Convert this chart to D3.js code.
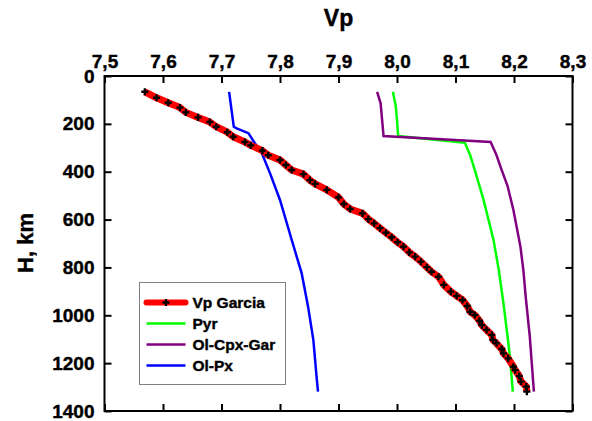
<!DOCTYPE html>
<html>
<head>
<meta charset="utf-8">
<script src="https://cdn.jsdelivr.net/npm/d3@7"></script>
<style>
	body { margin: 0; background: #fff; }
	text { font-family: "Liberation Sans", Arial, sans-serif; font-weight: bold; stroke: #000; stroke-width: 0.4px; }
</style>
</head>
<body>
<div id="vis"></div>
<script>
// depth H (km) and Vp (km/s)

var garciaH = [66, 91, 112, 132, 152, 173, 192, 212, 235, 254, 276, 290, 312, 331, 351, 372, 393, 410, 435, 451,
	476, 507, 535, 556, 574, 598, 616, 636, 655, 674, 695, 713, 737, 755, 776, 799, 818, 839, 873, 901,
	919, 936, 961, 985, 999, 1023, 1041, 1061, 1082, 1103, 1117, 1141, 1159, 1180, 1215, 1229, 1254, 1277, 1298, 1319];
var garciaVp = [7.569, 7.589, 7.609, 7.629, 7.639, 7.660, 7.680, 7.691, 7.710, 7.720, 7.740, 7.750, 7.770, 7.780, 7.800, 7.810, 7.820, 7.840, 7.851, 7.860,
	7.880, 7.900, 7.909, 7.920, 7.941, 7.951, 7.961, 7.971, 7.981, 7.991, 8.001, 8.011, 8.021, 8.031, 8.041, 8.051, 8.059, 8.071, 8.080, 8.092,
	8.102, 8.112, 8.120, 8.125, 8.133, 8.141, 8.145, 8.153, 8.162, 8.164, 8.170, 8.179, 8.182, 8.190, 8.199, 8.202, 8.209, 8.212, 8.221, 8.222];

var pyrH  = [66, 128, 184, 251, 279, 330, 393, 518, 685, 811, 950, 1089, 1173, 1319];
var pyrVp = [7.993, 7.998, 8.000, 8.002, 8.116, 8.125, 8.133, 8.148, 8.165, 8.174, 8.182, 8.189, 8.193, 8.198];

var garH  = [66, 114, 251, 276, 330, 393, 460, 560, 713, 811, 922, 1089, 1319];
var garVp = [7.966, 7.972, 7.977, 8.160, 8.170, 8.179, 8.189, 8.199, 8.211, 8.216, 8.220, 8.227, 8.234];

var pxH  = [66, 212, 219, 239, 281, 323, 407, 518, 685, 824, 964, 1103, 1270, 1319];
var pxVp = [7.713, 7.721, 7.726, 7.746, 7.757, 7.769, 7.783, 7.800, 7.820, 7.837, 7.848, 7.857, 7.863, 7.865];

var xTicks = [7.5, 7.6, 7.7, 7.8, 7.9, 8.0, 8.1, 8.2, 8.3];
var yTicks = [0, 200, 400, 600, 800, 1000, 1200, 1400];

var series = [
	{name: 'Pyr', h: pyrH, v: pyrVp, color: '#00ff00'},
	{name: 'Ol-Cpx-Gar', h: garH, v: garVp, color: '#800080'},
	{name: 'Ol-Px', h: pxH, v: pxVp, color: '#0000ff'}
];

var width = 592, height = 421;
var svg = d3.select('#vis').append('svg')
	.attr('width', width)
	.attr('height', height);

var x = d3.scaleLinear().domain([7.5, 8.3]).range([104.5, 572.5]);
var y = d3.scaleLinear().domain([0, 1400]).range([76, 411]);

function zip(h, v) {
	return h.map(function(d, i) { return [v[i], d]; });
}

var line = d3.line()
	.x(function(d) { return x(d[0]); })
	.y(function(d) { return y(d[1]); });

// axes, ticks pointing into the plot
var fmt = function(d) { return d3.format('.1f')(d).replace('.', ','); };

svg.append('g')
	.attr('transform', 'translate(0,' + y(0) + ')')
	.call(d3.axisTop(x).tickValues(xTicks).tickFormat(fmt).tickSize(-7).tickSizeOuter(0).tickPadding(8))
	.call(styleAxis);

svg.append('g')
	.attr('transform', 'translate(0,' + y(1400) + ')')
	.call(d3.axisBottom(x).tickValues(xTicks).tickFormat('').tickSize(-7).tickSizeOuter(0))
	.call(styleAxis);

svg.append('g')
	.attr('transform', 'translate(' + x(7.5) + ',0)')
	.call(d3.axisLeft(y).tickValues(yTicks).tickFormat(d3.format('d')).tickSize(-7).tickSizeOuter(0).tickPadding(10))
	.call(styleAxis);

svg.append('g')
	.attr('transform', 'translate(' + x(8.3) + ',0)')
	.call(d3.axisRight(y).tickValues(yTicks).tickFormat('').tickSize(-7).tickSizeOuter(0))
	.call(styleAxis);

function styleAxis(g) {
	g.attr('font-family', null).attr('font-size', null);
	g.select('.domain').remove();
	g.selectAll('line').attr('stroke', '#000').attr('stroke-width', 2);
	g.selectAll('text')
		.attr('fill', '#000')
		.attr('font-weight', 'bold')
		.style('font-size', '19px');
}

svg.append('rect')
	.attr('x', x(7.5))
	.attr('y', y(0))
	.attr('width', x(8.3) - x(7.5))
	.attr('height', y(1400) - y(0))
	.attr('fill', 'none')
	.attr('stroke', '#000')
	.attr('stroke-width', 2);

// model curves
series.forEach(function(s) {
	svg.append('path')
		.datum(zip(s.h, s.v))
		.attr('d', line)
		.attr('fill', 'none')
		.attr('stroke', s.color)
		.attr('stroke-width', 2.5);
});

// Garcia curve, thick red with black crosses
var garcia = zip(garciaH, garciaVp);
svg.append('path')
	.datum(garcia)
	.attr('d', line)
	.attr('fill', 'none')
	.attr('stroke', '#ff0000')
	.attr('stroke-width', 7)
	.attr('stroke-linejoin', 'round');

var cross = d3.symbol().type(d3.symbolCross).size(28);
svg.append('g')
	.selectAll('path')
	.data(garcia)
	.enter()
	.append('path')
	.attr('d', cross)
	.attr('transform', function(d) { return 'translate(' + x(d[0]) + ',' + y(d[1]) + ')'; })
	.attr('fill', '#000');

// titles
svg.append('text')
	.attr('x', (x(7.5) + x(8.3)) / 2)
	.attr('y', 26)
	.attr('text-anchor', 'middle')
	.style('font-size', '23px')
	.text('Vp');

svg.append('text')
	.attr('transform', 'translate(33,' + 243 + ') rotate(-90)')
	.attr('text-anchor', 'middle')
	.style('font-size', '22px')
	.text('H, km');

// legend
var legend = svg.append('g').attr('transform', 'translate(139.5,282.5)');
legend.append('rect')
	.attr('width', 146)
	.attr('height', 102)
	.attr('fill', '#fff')
	.attr('stroke', '#808080')
	.attr('stroke-width', 1);

var items = [{name: 'Vp Garcia', color: '#ff0000'}].concat(series);
items.forEach(function(s, i) {
	var ly = 20 + i * 21;
	legend.append('line')
		.attr('x1', 7).attr('x2', 46)
		.attr('y1', ly).attr('y2', ly)
		.attr('stroke', s.color)
		.attr('stroke-width', i === 0 ? 6 : 2.5)
		.attr('stroke-linecap', i === 0 ? 'round' : 'butt');
	if (i === 0) {
		legend.append('path')
			.attr('d', cross)
			.attr('transform', 'translate(26.5,' + ly + ')')
			.attr('fill', '#000');
	}
	legend.append('text')
		.attr('x', 53)
		.attr('y', ly + 5.5)
		.style('font-size', '15.5px')
		.text(s.name);
});
</script>
</body>
</html>
